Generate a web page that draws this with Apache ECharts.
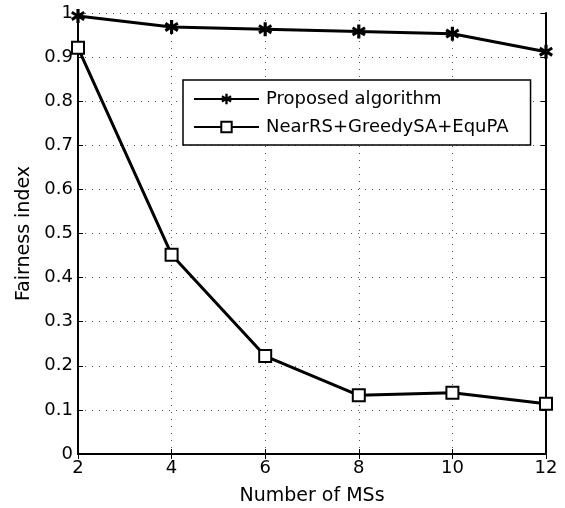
<!DOCTYPE html>
<html>
<head>
<meta charset="utf-8">
<script src="https://cdn.jsdelivr.net/npm/echarts@6/dist/echarts.min.js"></script>
<style>
  html, body { margin: 0; padding: 0; background: #fff; }
  #chart { width: 565px; height: 508px; }
</style>
</head>
<body>
<div id="chart"></div>
<script>
var msCounts = [2, 4, 6, 8, 10, 12];
var proposed = [0.993, 0.968, 0.963, 0.958, 0.953, 0.912];
var nearRS = [0.921, 0.452, 0.222, 0.133, 0.139, 0.114];
var seriesNames = ["Proposed algorithm", "NearRS+GreedySA+EquPA"];

var font = "DejaVu Sans, Liberation Sans, sans-serif";
var asterisk = "path://M-1,-5L1,-5L1,-2.2L3.4,-3.8L4.4,-2.1L2,-0.7L4.4,0.9L3.4,2.6L1,1.1L1,4L-1,4L-1,1.1L-3.4,2.6L-4.4,0.9L-2,-0.7L-4.4,-2.1L-3.4,-3.8L-1,-2.2Z";

var chart = echarts.init(document.getElementById("chart"));

function pairs(vals) {
  return msCounts.map(function (x, i) { return [x, vals[i]]; });
}

var gridLine = { show: true, lineStyle: { color: "#555", type: [1, 6], width: 1 } };
var tick = { show: true, inside: true, length: 5, lineStyle: { color: "#000" } };
var axisLine = { show: true, lineStyle: { color: "#000", width: 2 } };

var option = {
  backgroundColor: "#fff",
  animation: false,
  grid: { left: 78, top: 13, right: 19, bottom: 54, outerBoundsMode: "none" },
  legend: {
    orient: "vertical",
    left: 183,
    top: 80,
    padding: [10, 22, 9, 10],
    itemGap: 10,
    itemWidth: 65,
    itemHeight: 13,
    borderColor: "#000",
    borderWidth: 1.5,
    backgroundColor: "#fff",
    textStyle: { fontFamily: font, fontSize: 18, color: "#000", padding: [0, 0, 0, 2] },
    data: seriesNames
  },
  xAxis: [{
    type: "value",
    min: 2, max: 12, interval: 2,
    name: "Number of MSs",
    nameLocation: "middle",
    nameGap: 33,
    nameTextStyle: { fontFamily: font, fontSize: 19, color: "#000" },
    axisLine: axisLine,
    axisTick: tick,
    axisLabel: { fontFamily: font, fontSize: 18, color: "#000", margin: 5 },
    splitLine: gridLine
  }, {
    type: "value", position: "top",
    min: 2, max: 12, interval: 2,
    axisLine: axisLine,
    axisTick: tick,
    axisLabel: { show: false },
    splitLine: { show: false }
  }],
  yAxis: [{
    type: "value",
    min: 0, max: 1, interval: 0.1,
    name: "Fairness index",
    nameLocation: "middle",
    nameGap: 43,
    nameTextStyle: { fontFamily: font, fontSize: 19, color: "#000" },
    axisLine: axisLine,
    axisTick: tick,
    axisLabel: { fontFamily: font, fontSize: 18, color: "#000", margin: 5,
      formatter: function (v) { return String(Math.round(v * 10) / 10); } },
    splitLine: gridLine
  }, {
    type: "value", position: "right",
    min: 0, max: 1, interval: 0.1,
    axisLine: axisLine,
    axisTick: tick,
    axisLabel: { show: false },
    splitLine: { show: false }
  }],
  series: [{
    name: seriesNames[0],
    type: "line",
    data: pairs(proposed),
    symbol: asterisk,
    symbolSize: 14,
    itemStyle: { color: "#000" },
    lineStyle: { color: "#000", width: 3 },
    z: 4
  }, {
    name: seriesNames[1],
    type: "line",
    data: pairs(nearRS),
    symbol: "rect",
    symbolSize: 12,
    itemStyle: { color: "#fff", borderColor: "#000", borderWidth: 2 },
    lineStyle: { color: "#000", width: 3 },
    z: 3
  }]
};

chart.setOption(option);
</script>
</body>
</html>
